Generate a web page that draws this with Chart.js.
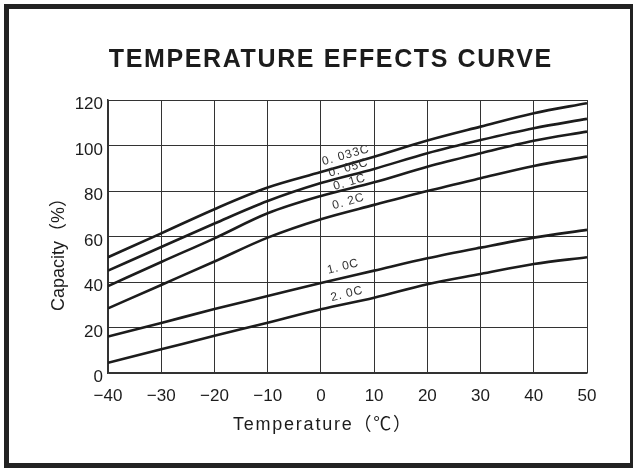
<!DOCTYPE html>
<html>
<head>
<meta charset="utf-8">
<script src="https://cdn.jsdelivr.net/npm/chart.js@4.4.0/dist/chart.umd.min.js"></script>
<style>
  html, body { margin: 0; padding: 0; background: #fff; }
</style>
</head>
<body>
<canvas id="chart" width="633" height="468"></canvas>
<script>
// temperature (C) vs capacity (%) at different discharge rates
const temps = [-40, -30, -20, -10, 0, 10, 20, 30, 40, 50];
const cap0033C = [50.9, 61.4, 72.0, 81.5, 88.3, 95.1, 102.2, 108.3, 114.2, 118.6];
const cap005C  = [45.0, 55.4, 65.7, 75.6, 83.5, 89.7, 96.6, 102.4, 107.6, 111.7];
const cap01C   = [38.2, 48.8, 59.2, 70.2, 77.8, 83.8, 90.7, 96.6, 102.1, 106.1];
const cap02C   = [28.4, 38.7, 49.0, 59.5, 67.6, 73.9, 80.0, 85.6, 91.0, 95.1];
const cap10C   = [16.0, 22.0, 28.1, 33.8, 39.6, 45.0, 50.4, 55.1, 59.5, 62.9];
const cap20C   = [4.5, 10.4, 16.4, 22.1, 28.0, 33.1, 39.0, 43.5, 47.9, 50.9];

const seriesNames = ['0. 033C', '0. 05C', '0. 1C', '0. 2C', '1. 0C', '2. 0C'];
const seriesValues = [cap0033C, cap005C, cap01C, cap02C, cap10C, cap20C];
// where each curve's name sits, in data units (temperature, capacity)
const labelTemp = [4.6, 5.1, 5.3, 5.1, 4.1, 4.8];
const labelCap  = [95.6, 90.1, 83.8, 75.3, 46.7, 34.7];

const titleText = 'TEMPERATURE EFFECTS CURVE';
const xTitle = 'Temperature（℃）';
const yTitle = 'Capacity（%）';

const INK = '#1c1c1c';

function spacedText(ctx, text, x, y, width) {
  ctx.letterSpacing = '0px';
  const w = ctx.measureText(text).width;
  const sp = Math.max(0, (width - w) / text.length);
  ctx.letterSpacing = sp + 'px';
  ctx.fillText(text, x + sp / 2, y);
  ctx.letterSpacing = '0px';
}

const decor = {
  id: 'decor',
  afterDraw(chart) {
    const ctx = chart.ctx;
    const xs = chart.scales.x, ys = chart.scales.y;
    ctx.save();
    // outer frame
    ctx.strokeStyle = '#222';
    ctx.lineWidth = 5;
    ctx.strokeRect(6.5, 6.5, 626, 459);

    ctx.fillStyle = INK;
    ctx.textAlign = 'center';
    ctx.textBaseline = 'alphabetic';
    ctx.font = 'bold 25px "Liberation Sans", Arial, sans-serif';
    spacedText(ctx, titleText, 330, 67, 444);

    ctx.font = '18px "Liberation Sans", "Noto Sans CJK SC", sans-serif';
    spacedText(ctx, xTitle, 322, 430, 180);

    ctx.save();
    ctx.translate(64, 250);
    ctx.rotate(-Math.PI / 2);
    spacedText(ctx, yTitle, 0, 0, 114);
    ctx.restore();

    // curve names along the lines
    ctx.fillStyle = '#333';
    ctx.textBaseline = 'middle';
    ctx.font = '12px "Liberation Sans", Arial, sans-serif';
    const widths = [49, 41, 33, 33, 32, 33];
    seriesNames.forEach((name, i) => {
      ctx.save();
      ctx.translate(xs.getPixelForValue(labelTemp[i]), ys.getPixelForValue(labelCap[i]));
      ctx.rotate((i < 4 ? -16 : -14) * Math.PI / 180);
      spacedText(ctx, name, 0, 0, widths[i]);
      ctx.restore();
    });
    ctx.restore();
  }
};

const datasets = seriesValues.map((vals, i) => ({
  label: seriesNames[i],
  data: temps.map((t, j) => ({x: t, y: vals[j]})),
  borderColor: INK,
  borderWidth: 2.6,
  pointRadius: 0,
  cubicInterpolationMode: 'monotone',
  fill: false
}));

new Chart(document.getElementById('chart'), {
  type: 'line',
  data: {datasets},
  options: {
    responsive: false,
    animation: false,
    layout: {padding: {left: 0, right: 46, top: 100, bottom: 0}},
    plugins: {legend: {display: false}, tooltip: {enabled: false}},
    scales: {
      x: {
        type: 'linear',
        min: -40, max: 50,
        afterFit: s => { s.height = 95; },
        grid: {color: '#333', lineWidth: 1, drawTicks: false},
        border: {color: '#333', width: 1.5},
        ticks: {
          stepSize: 10,
          padding: 13,
          color: INK,
          font: {family: '"Liberation Sans", Arial, sans-serif', size: 17},
          callback: v => (v < 0 ? '\u2212' + Math.abs(v) : String(v))
        }
      },
      y: {
        min: 0, max: 120,
        afterFit: s => { s.width = 108; },
        grid: {color: '#333', lineWidth: 1, drawTicks: false},
        border: {color: '#333', width: 1.5},
        ticks: {
          stepSize: 20,
          padding: 5,
          labelOffset: 4.5,
          color: INK,
          font: {family: '"Liberation Sans", Arial, sans-serif', size: 17}
        }
      }
    }
  },
  plugins: [decor]
});
</script>
</body>
</html>
